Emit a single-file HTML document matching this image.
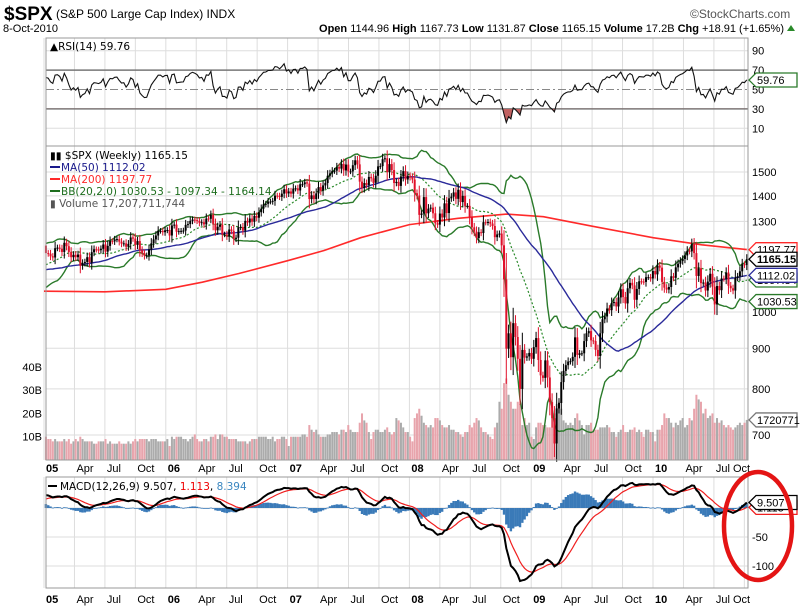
<!DOCTYPE html>
<html><head><meta charset="utf-8"><style>
body{margin:0;background:#fff;}
svg{display:block;font-family:"Liberation Sans",sans-serif;}
.lg{font-family:"DejaVu Sans",sans-serif;font-size:10.5px;}
</style></head><body>
<svg id="chart" width="800" height="607" viewBox="0 0 800 607" xmlns="http://www.w3.org/2000/svg">
<g>
<text x="4" y="20" font-size="19" font-weight="bold">$SPX</text>
<text x="56" y="18" font-size="12">(S&amp;P 500 Large Cap Index) INDX</text>
<text x="690" y="18" font-size="12" fill="#555">©StockCharts.com</text>
<text x="3" y="32" font-size="11">8-Oct-2010</text>
<text x="784" y="32" font-size="11" text-anchor="end"><tspan font-weight="bold">Open</tspan> 1144.96 <tspan font-weight="bold">High</tspan> 1167.73 <tspan font-weight="bold">Low</tspan> 1131.87 <tspan font-weight="bold">Close</tspan> 1165.15 <tspan font-weight="bold">Volume</tspan> 17.2B <tspan font-weight="bold">Chg</tspan> +18.91 (+1.65%)</text>
<path d="M787,31 L795,31 L791,25 Z" fill="#2a8a2a"/>
</g>
<g id="grid"></g>
<g id="vol"></g>
<g id="rsi"></g>
<g id="price"></g>
<g id="macd"></g>
<g id="axes"></g>
<g class="lg">
<text x="50" y="159">▮▮ $SPX (Weekly) 1165.15</text>
<line x1="50" y1="167" x2="60" y2="167" stroke="#1a1a8c" stroke-width="2"/>
<text x="61" y="171" fill="#1a1a8c">MA(50) 1112.02</text>
<line x1="50" y1="179" x2="60" y2="179" stroke="#ff2a2a" stroke-width="2"/>
<text x="61" y="183" fill="#ff2a2a">MA(200) 1197.77</text>
<line x1="50" y1="191" x2="60" y2="191" stroke="#1e6e1e" stroke-width="2"/>
<text x="61" y="195" fill="#1e6e1e">BB(20,2.0) 1030.53 - 1097.34 - 1164.14</text>
<text x="50" y="207" fill="#555">▮ Volume 17,207,711,744</text>
</g>
<text class="lg" x="50" y="50">▲RSI(14) 59.76</text>
<g class="lg">
<line x1="48" y1="486" x2="57" y2="486" stroke="#000" stroke-width="2"/>
<text x="60" y="490">MACD(12,26,9) 9.507, <tspan fill="#e00">1.113</tspan>, <tspan fill="#3a86c0">8.394</tspan></text>
</g>
<ellipse cx="758" cy="526" rx="34" ry="54" fill="none" stroke="#e41414" stroke-width="4.5"/>
</svg>
<script>
const closes2004=[1122,1139,1141,1131,1142,1145,1145,1156,1144,1156,1121,1109,1109,1140,1140,1124,1134,1107,1098,1094,1095,1114,1121,1123,1135,1140,1125,1112,1101,1098,1064,1080,1093,1099,1108,1114,1121,1128,1113,1110,1103,1109,1130,1130,1165,1164,1170,1183,1191,1188,1199,1212];
const closes=[
1186,1184,1175,1171,1203,1205,1201,1190,1222,1210,1190,1172,1180,1172,1181,1143,1152,1156,1172,1154,1189,1199,1198,1196,1201,1216,1191,1211,1228,1227,1234,1235,1226,1219,1220,1208,1218,1241,1237,1215,1228,1196,1186,1177,1178,1198,1220,1234,1248,1265,1265,1260,1267,1268,1248,
1285,1288,1262,1264,1265,1266,1287,1290,1302,1307,1305,1302,1295,1297,1289,1311,1310,1325,1291,1267,1280,1288,1252,1252,1245,1270,1265,1236,1240,1278,1279,1266,1302,1296,1311,1299,1321,1314,1335,1349,1366,1368,1377,1377,1380,1401,1400,1396,1409,1427,1410,1418,
1409,1430,1431,1422,1448,1448,1456,1451,1387,1402,1387,1410,1436,1421,1443,1453,1484,1494,1505,1506,1522,1515,1536,1507,1533,1503,1503,1530,1552,1534,1459,1433,1453,1445,1479,1473,1454,1484,1525,1526,1557,1561,1500,1535,1509,1453,1458,1441,1481,1504,1468,1484,1478,1468,
1411,1401,1325,1330,1395,1331,1349,1353,1331,1293,1288,1330,1315,1370,1332,1390,1397,1414,1388,1425,1375,1400,1360,1360,1317,1278,1262,1239,1260,1257,1297,1296,1298,1292,1283,1242,1252,1255,1213,1099,899,940,877,968,930,873,800,896,876,879,888,873,903,
927,870,832,826,869,827,770,735,683,756,768,816,843,857,866,867,878,929,883,887,887,919,940,946,921,919,896,880,940,979,987,1010,1005,1026,1029,1016,1043,1068,1044,1025,1071,1088,1080,1036,1069,1093,1092,1091,1106,1106,1102,1126,1115,
1144,1137,1091,1073,1067,1075,1109,1104,1138,1150,1159,1166,1178,1194,1192,1217,1186,1110,1135,1087,1089,1064,1092,1117,1076,1022,1078,1065,1102,1101,1121,1079,1071,1064,1104,1109,1125,1148,1146,1165.15];
const volumes=[
10,9,9,8,9,8,8,8,9,8,9,7,8,9,8,10,9,8,8,8,8,7,7,8,8,8,9,7,8,7,7,7,8,7,7,7,8,7,8,9,8,9,9,9,9,8,9,9,9,8,8,8,8,9,6,
10,9,10,10,10,9,9,8,9,10,11,9,8,8,9,9,8,10,10,11,9,11,11,10,10,9,9,9,9,8,8,8,8,7,8,9,9,9,10,10,10,10,9,9,10,8,9,9,10,10,9,6,
10,10,10,10,10,11,11,10,15,13,12,13,11,10,10,10,11,11,12,12,12,11,13,13,12,15,13,12,12,12,16,20,17,16,12,9,12,13,13,12,12,13,14,12,11,12,18,17,16,14,12,12,10,8,
18,20,22,19,16,15,14,15,14,18,18,17,15,14,14,15,13,13,12,12,11,10,12,12,15,14,16,18,17,14,12,12,11,10,9,14,16,25,22,33,35,28,25,22,22,25,24,15,18,15,16,10,9,
14,16,16,15,15,14,14,18,20,24,25,22,17,16,15,16,15,18,20,17,15,11,15,15,16,13,13,13,14,14,14,15,14,12,12,10,12,13,15,12,12,13,13,14,12,13,12,10,13,13,12,12,8,
13,13,15,20,18,18,16,14,16,15,17,18,14,15,18,17,22,28,26,25,20,22,18,19,20,16,18,16,17,15,14,15,14,13,14,15,16,15,16,17.2];
const ma200Years=[2005.0,2005.5,2006.0,2006.3,2006.6,2007.0,2007.3,2007.6,2008.0,2008.4,2008.8,2009.1,2009.5,2010.0,2010.4,2010.77];
const ma200Values=[1062,1060,1068,1090,1118,1160,1195,1240,1288,1312,1328,1318,1282,1240,1215,1198];
const priceGrid=[700,800,900,1000,1100,1200,1300,1400,1500];
const priceLabels=[700,800,900,1000,1300,1400,1500];
const volTicks=[10,20,30,40];
const rsiTicks=[10,30,50,70,90];
const macdTicks=[-100,-50];

const NS="http://www.w3.org/2000/svg";
const L=46,R=748;
const T0=2005.016,T1=2010.77;
function X(t){return 44+(t-2005)*121.8;}
function Tw(i){return T0+i*(T1-T0)/(closes.length-1);}
function yP(p){return 435-345*Math.log(p/700);}
function yV(v){return 460-2.33*v;}
function yR(r){return 138-0.97*r;}
function yM(m){return 508-0.58*m;}
function mk(tag,attrs,parent,txt){const e=document.createElementNS(NS,tag);for(const k in attrs)e.setAttribute(k,attrs[k]);if(txt!==undefined)e.textContent=txt;parent.appendChild(e);return e;}
const gGrid=document.getElementById('grid'),gVol=document.getElementById('vol'),gRsi=document.getElementById('rsi'),gPrice=document.getElementById('price'),gMacd=document.getElementById('macd'),gAx=document.getElementById('axes');

const all=closes2004.concat(closes),off=closes2004.length;
function ema(arr,n){const k=2/(n+1);const o=[arr[0]];for(let i=1;i<arr.length;i++)o.push(arr[i]*k+o[i-1]*(1-k));return o;}
const e12=ema(all,12),e26=ema(all,26);
const macdAll=all.map((v,i)=>e12[i]-e26[i]);
const sigAll=ema(macdAll,9);
const rsiAll=[50];let ag=0,al=0;
for(let i=1;i<all.length;i++){const d=all[i]-all[i-1];const g=Math.max(d,0),l=Math.max(-d,0);if(i<=14){ag+=g/14;al+=l/14;}else{ag=(ag*13+g)/14;al=(al*13+l)/14;}rsiAll.push(al===0?100:100-100/(1+ag/al));}
const ma50=[],bbU=[],bbL=[],bbM=[];
for(let i=0;i<closes.length;i++){const j=i+off;let s=0;for(let k=j-49;k<=j;k++)s+=all[k];ma50.push(s/50);
let m=0;for(let k=j-19;k<=j;k++)m+=all[k];m/=20;let v=0;for(let k=j-19;k<=j;k++)v+=(all[k]-m)**2;const sd=Math.sqrt(v/20);bbM.push(m);bbU.push(m+2*sd);bbL.push(m-2*sd);}

function panel(y1,y2,name){const r=mk('rect',{x:L,y:y1,width:R-L,height:y2-y1,fill:'none',stroke:'#999'},gAx);}
for(let yr=2005;yr<=2010;yr++)for(let q=0;q<4;q++){const t=yr+q*0.25;if(t>2010.76)continue;const x=X(t);
[[38,146],[146,460],[477,588]].forEach(p=>{const ln=mk('line',{x1:x,y1:p[0],x2:x,y2:p[1],stroke:'#ddd'},gGrid);});
const lab=q===0?String(yr%100).padStart(2,'0'):['','Apr','Jul','Oct'][q];
let lx=x+2; if(lx+20>752) lx=733;
[472,603].forEach(yy=>{const tx=mk('text',{x:lx,y:yy,'font-size':11,'font-weight':q===0?'bold':'normal'},gAx,lab);});}
panel(38,146,'rsi-panel');panel(146,460,'price-panel');panel(477,588,'macd-panel');
priceGrid.forEach(p=>{const ln=mk('line',{x1:L,y1:yP(p),x2:R,y2:yP(p),stroke:'#ddd'},gGrid);});
priceLabels.forEach(p=>{const t=mk('text',{x:752,y:yP(p)+4,'font-size':11},gAx,p);});
volTicks.forEach(v=>{const t=mk('text',{x:42,y:yV(v)+4,'font-size':11,'text-anchor':'end'},gAx,v+'B');});
rsiTicks.forEach(r=>{const ln=mk('line',{x1:L,y1:yR(r),x2:R,y2:yR(r),stroke:(r===30||r===70)?'#777':(r===50?'#888':'#ddd'),'stroke-width':(r===30||r===70)?1.5:1,'stroke-dasharray':r===50?'8,3,2,3':'none'},gGrid);
const t=mk('text',{x:752,y:yR(r)+4,'font-size':11},gAx,r);});
[0,-50,-100].forEach(m=>{const ln=mk('line',{x1:L,y1:yM(m),x2:R,y2:yM(m),stroke:'#ddd'},gGrid);});
macdTicks.forEach(m=>{const t=mk('text',{x:752,y:yM(m)+4,'font-size':11},gAx,m);});

closes.forEach((c,i)=>{const prev=i?closes[i-1]:closes2004[closes2004.length-1];const x=X(Tw(i));
const b=mk('rect',{x:x-1,y:yV(volumes[i]),width:2,height:460-yV(volumes[i]),fill:c<prev?'#e8a4ac':'#ababab'},gVol);});

function line(vals,xs,yf,attrs,parent,name){const pts=vals.map((v,i)=>xs[i].toFixed(1)+','+yf(v).toFixed(1)).join(' ');const p=mk('polyline',Object.assign({points:pts,fill:'none'},attrs),parent);return p;}
const xs=closes.map((c,i)=>X(Tw(i)));
line(ma200Values,ma200Years.map(X),yP,{stroke:'#ff2a2a','stroke-width':1.6},gPrice,'ma200-line');
line(bbU,xs,yP,{stroke:'#2a7a2a','stroke-width':1.4},gPrice,'bb-upper-line');
line(bbL,xs,yP,{stroke:'#2a7a2a','stroke-width':1.4},gPrice,'bb-lower-line');
line(bbM,xs,yP,{stroke:'#2a8a2a','stroke-width':1.2,'stroke-dasharray':'2,2'},gPrice,'bb-middle-line');
line(ma50,xs,yP,{stroke:'#2a2a9a','stroke-width':1.4},gPrice,'ma50-line');
closes.forEach((c,i)=>{const o=i?closes[i-1]:closes2004[closes2004.length-1];const x=xs[i];
const h=Math.max(o,c)+0.4*Math.abs(c-o)+c*0.008,l=Math.min(o,c)-0.4*Math.abs(c-o)-c*0.008;const col=c<o?'#e0102a':'#000';
const w=mk('line',{x1:x,y1:yP(h),x2:x,y2:yP(l),stroke:col},gPrice);
const b=mk('rect',{x:x-1,y:yP(Math.max(o,c)),width:2,height:Math.max(1,yP(Math.min(o,c))-yP(Math.max(o,c))),fill:col},gPrice);});
const rsi=rsiAll.slice(off);
const clip=mk('clipPath',{id:'below30'},gRsi);mk('rect',{x:L,y:yR(30),width:R-L,height:146-yR(30)},clip);
const poly=mk('polygon',{points:xs.map((x,i)=>x.toFixed(1)+','+yR(rsi[i]).toFixed(1)).join(' ')+` ${xs[xs.length-1]},${yR(30)} ${xs[0]},${yR(30)}`,fill:'#c06060','clip-path':'url(#below30)'},gRsi);

line(rsi,xs,yR,{stroke:'#111','stroke-width':1.1},gRsi,'rsi-line');
const macd=macdAll.slice(off),sig=sigAll.slice(off);
macd.forEach((m,i)=>{const hv=m-sig[i];const y0=yM(0),y1=yM(hv);const b=mk('rect',{x:xs[i]-1.2,y:Math.min(y0,y1),width:2.4,height:Math.max(0.8,Math.abs(y1-y0)),fill:'#3a7ab8'},gMacd);});
line(sig,xs,yM,{stroke:'#f02020','stroke-width':1.2},gMacd,'macd-signal-line');
line(macd,xs,yM,{stroke:'#000','stroke-width':2},gMacd,'macd-line');
function tag(y,txt,col,name,bold){const g=mk('g',{},gAx);
mk('path',{d:`M749,${y} L756,${y-7} L797,${y-7} L797,${y+7} L756,${y+7} Z`,fill:'#fff',stroke:col,'stroke-width':1.3},g);
mk('text',{x:757,y:y+4,'font-size':11,'font-weight':bold?'bold':'normal'},g,txt);}
tag(yP(bbM[bbM.length-1]),'1097.34','#2a7a2a','bb-middle-tag');
tag(yP(1197.77),'1197.77','#ff2a2a','ma200-tag');
tag(yP(1112.02),'1112.02','#2a2a9a','ma50-tag');
tag(yP(1030.53),'1030.53','#2a7a2a','bb-lower-tag');
tag(yP(closes[closes.length-1]),'1165.15','#000','close-tag',true);
tag(yV(17.2),'1720771','#777','volume-tag');
tag(yR(59.76),'59.76','#2a7a2a','rsi-tag');
tag(yM(1.113),'1.113','#f02020','macd-signal-tag');
tag(yM(9.507),'9.507','#000','macd-tag');
</script>
</body></html>
